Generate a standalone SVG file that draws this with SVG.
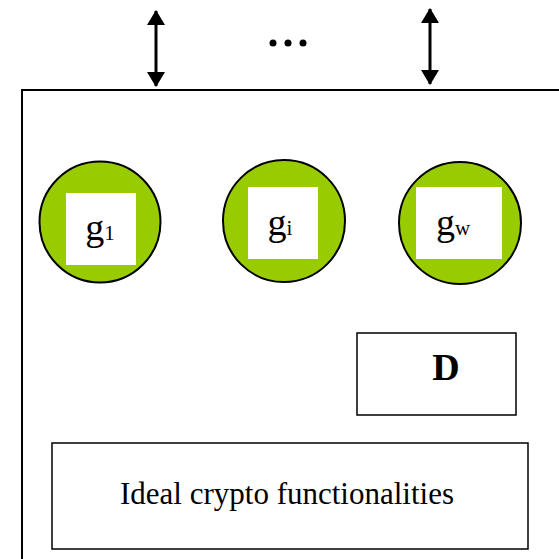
<svg xmlns="http://www.w3.org/2000/svg" width="559" height="559" viewBox="0 0 559 559">
<style>
.frame{fill:none;stroke:#000;stroke-width:2}
.circ{fill:#99cc00;stroke:#000;stroke-width:2}
.sq{fill:#fff;stroke:none}
.box{fill:#fff;stroke:#000;stroke-width:1.5}
.t{font-family:"Liberation Serif","Times New Roman",serif;fill:#000}
.conn{stroke:#000;stroke-width:3;fill:none}
</style>
<defs>
<marker id="ah" viewBox="0 0 15 18" refX="14" refY="9" markerWidth="15" markerHeight="18" markerUnits="userSpaceOnUse" orient="auto-start-reverse">
<path d="M0,0 L15,9 L0,18 z" fill="#000"/>
</marker>
</defs>
<rect width="559" height="559" fill="#fff"/>
<g id="system">
<path class="frame" d="M22,570 L22,90 L570,90"/>
</g>
<g id="connectors">
<line class="conn" x1="156" y1="11" x2="156" y2="86" marker-start="url(#ah)" marker-end="url(#ah)"/>
<line class="conn" x1="430" y1="9" x2="430" y2="84" marker-start="url(#ah)" marker-end="url(#ah)"/>
</g>
<g id="ellipsis">
<circle cx="273" cy="43" r="3.5"/>
<circle cx="288" cy="43" r="3.5"/>
<circle cx="303" cy="43" r="3.5"/>
</g>
<g id="g1">
<circle class="circ" cx="100" cy="222" r="60.5"/>
<rect class="sq" x="66" y="193" width="70" height="72"/>
<text class="t" x="100" y="240" text-anchor="middle"><tspan font-size="38">g</tspan><tspan font-size="21">1</tspan></text>
</g>
<g id="gi">
<circle class="circ" cx="284" cy="221" r="61"/>
<rect class="sq" x="248" y="187" width="70" height="72"/>
<text class="t" x="280" y="235" text-anchor="middle"><tspan font-size="38">g</tspan><tspan font-size="21">i</tspan></text>
</g>
<g id="gw">
<circle class="circ" cx="460" cy="223" r="61"/>
<rect class="sq" x="416" y="187" width="86" height="72"/>
<text class="t" x="453" y="235" text-anchor="middle"><tspan font-size="38">g</tspan><tspan font-size="21">w</tspan></text>
</g>
<g id="D">
<rect class="box" x="357" y="333" width="159" height="82"/>
<text class="t" x="446" y="380" text-anchor="middle" font-size="38" font-weight="bold">D</text>
</g>
<g id="ideal">
<rect class="box" x="52" y="443" width="476" height="106"/>
<text class="t" x="287" y="504" text-anchor="middle" font-size="31">Ideal crypto functionalities</text>
</g>
</svg>
